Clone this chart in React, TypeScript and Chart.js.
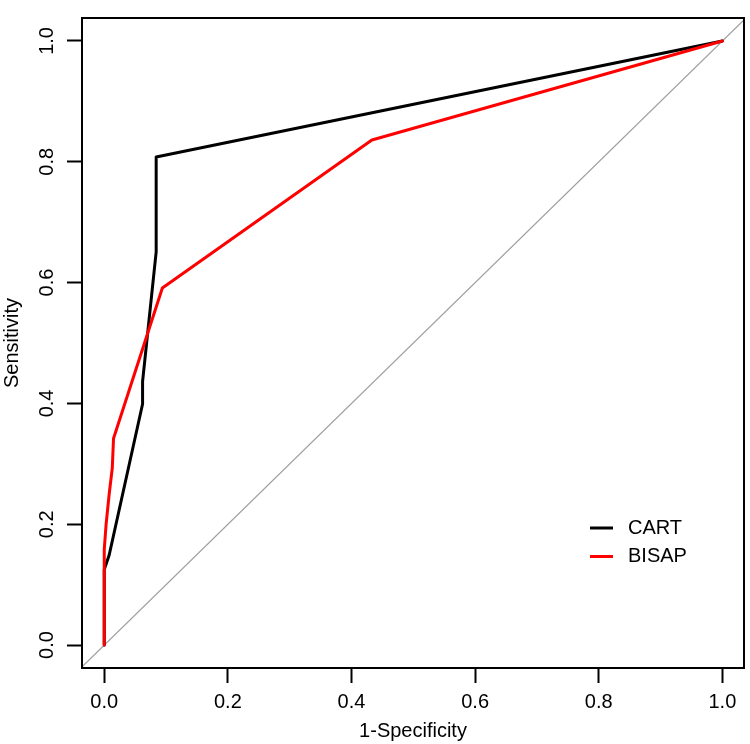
import React, { useEffect, useRef } from "react";
import { Chart, registerables } from "chart.js";

Chart.register(...registerables);

// ---- data ----
const tickValues = [0, 0.2, 0.4, 0.6, 0.8, 1.0];

const cartFpr = [0, 0, 0.008, 0.062, 0.062, 0.084, 0.084, 1];
const cartTpr = [0, 0.125, 0.149, 0.399, 0.436, 0.651, 0.808, 1];

const bisapFpr = [0, 0, 0.003, 0.008, 0.013, 0.015, 0.094, 0.433, 1];
const bisapTpr = [0, 0.158, 0.2, 0.25, 0.293, 0.342, 0.591, 0.836, 1];

const refLine = [-0.05, 1.05];

const seriesLabels = ["CART", "BISAP"];
const xTitle = "1-Specificity";
const yTitle = "Sensitivity";

const FONT = "'Liberation Sans', Arial, Helvetica, sans-serif";

const boxPlugin = {
  id: "plotBox",
  afterDraw(chart: any) {
    const { ctx, chartArea: a } = chart;
    ctx.save();
    ctx.strokeStyle = "#000";
    ctx.lineWidth = 2;
    ctx.strokeRect(a.left, a.top, a.right - a.left, a.bottom - a.top);
    ctx.restore();
  },
};

const legendPlugin = {
  id: "rocLegend",
  afterDraw(chart: any) {
    const { ctx, chartArea: a } = chart;
    const items = chart.data.datasets.filter((d: any) => d.label);
    ctx.save();
    ctx.font = `20px ${FONT}`;
    ctx.textBaseline = "middle";
    ctx.textAlign = "left";
    items.forEach((d: any, i: number) => {
      const y = a.bottom - 140 + i * 28.5;
      ctx.strokeStyle = d.borderColor;
      ctx.lineWidth = 3;
      ctx.beginPath();
      ctx.moveTo(a.right - 154, y);
      ctx.lineTo(a.right - 131, y);
      ctx.stroke();
      ctx.fillStyle = "#000";
      ctx.fillText(d.label, a.right - 116, y);
    });
    ctx.restore();
  },
};

export default function App() {
  const ref = useRef<HTMLCanvasElement>(null);

  useEffect(() => {
    document.body.style.margin = "0";
    const font = { family: FONT, size: 20 };
    const chart = new Chart(ref.current as HTMLCanvasElement, {
      type: "scatter",
      data: {
        datasets: [
          {
            label: seriesLabels[0],
            data: cartFpr.map((x, i) => ({ x, y: cartTpr[i] })),
            showLine: true,
            borderColor: "#000000",
            backgroundColor: "#000000",
            borderWidth: 3,
            pointRadius: 0,
            borderJoinStyle: "round",
            borderCapStyle: "round",
            order: 2,
          },
          {
            label: seriesLabels[1],
            data: bisapFpr.map((x, i) => ({ x, y: bisapTpr[i] })),
            showLine: true,
            borderColor: "#ff0000",
            backgroundColor: "#ff0000",
            borderWidth: 3,
            pointRadius: 0,
            borderJoinStyle: "round",
            borderCapStyle: "round",
            order: 1,
          },
          {
            label: "",
            data: refLine.map((v) => ({ x: v, y: v })),
            showLine: true,
            borderColor: "#a0a0a0",
            borderWidth: 1.2,
            pointRadius: 0,
            order: 3,
          },
        ] as any,
      },
      options: {
        animation: false,
        responsive: true,
        maintainAspectRatio: false,
        events: [],
        layout: { padding: { top: 3, right: 6, left: 0, bottom: 0 } },
        plugins: { legend: { display: false }, tooltip: { enabled: false } },
        scales: {
          x: {
            type: "linear",
            position: "bottom",
            min: -0.036,
            max: 1.035,
            afterBuildTicks: (s: any) => {
              s.ticks = tickValues.map((v) => ({ value: v }));
            },
            afterFit: (s: any) => {
              s.height = 76;
            },
            border: { display: false },
            grid: {
              drawOnChartArea: false,
              drawTicks: true,
              tickLength: 15,
              tickWidth: 2,
              tickColor: "#000",
              color: "#000",
            },
            ticks: {
              callback: (v: any) => Number(v).toFixed(1),
              autoSkip: false,
              maxRotation: 0,
              minRotation: 0,
              padding: 7,
              color: "#000",
              font,
            },
            title: {
              display: true,
              text: xTitle,
              color: "#000",
              font,
              padding: { top: 0, bottom: 1 },
            },
          },
          y: {
            type: "linear",
            position: "left",
            min: -0.038,
            max: 1.038,
            afterBuildTicks: (s: any) => {
              s.ticks = tickValues.map((v) => ({ value: v }));
            },
            afterFit: (s: any) => {
              s.width = 82;
            },
            border: { display: false },
            grid: {
              drawOnChartArea: false,
              drawTicks: true,
              tickLength: 15,
              tickWidth: 2,
              tickColor: "#000",
              color: "#000",
            },
            ticks: {
              callback: (v: any) => Number(v).toFixed(1),
              autoSkip: false,
              minRotation: 90,
              maxRotation: 90,
              crossAlign: "center",
              padding: 6,
              color: "#000",
              font,
            },
            title: {
              display: true,
              text: yTitle,
              color: "#000",
              font,
              padding: { top: 0, bottom: 0 },
            },
          },
        },
      } as any,
      plugins: [boxPlugin, legendPlugin],
    });
    return () => chart.destroy();
  }, []);

  return (
    <div style={{ width: 750, height: 744, position: "relative" }}>
      <canvas ref={ref} />
    </div>
  );
}
